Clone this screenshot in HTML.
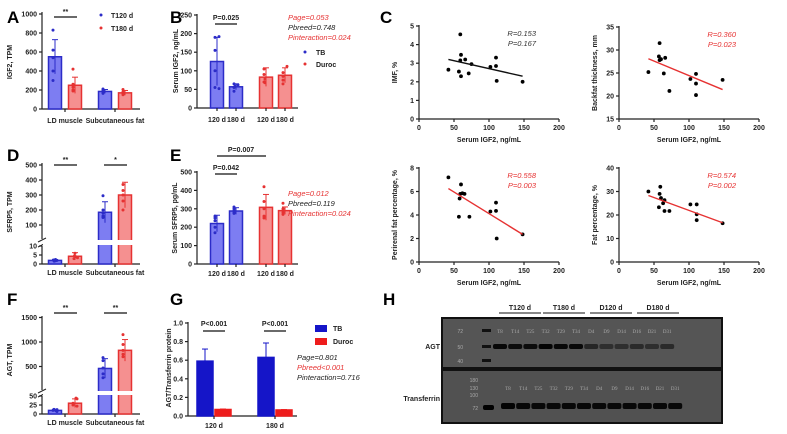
<!DOCTYPE html>
<html><head><meta charset="utf-8"><style>
body{margin:0;background:#fff}
svg{display:block;font-family:"Liberation Sans",Arial,sans-serif}
.t{font-size:7px;font-weight:bold;fill:#222}
.pl{font-size:17px;font-weight:bold;fill:#000}
.st{font-size:7.5px;font-style:italic}
</style></head><body>
<svg id="fig" width="787" height="434" viewBox="0 0 787 434" xmlns="http://www.w3.org/2000/svg"></svg>
<script>
// ---------- data ----------
const barCats=['LD muscle','Subcutaneous fat'];
const ageCats=['120 d','180 d','120 d','180 d'];
const A_t120=[550,185], A_t180=[250,170], A_t120sd=[180,20], A_t180sd=[85,25];
const A_p120=[[830,620,540,400,300],[210,200,185,175,165]], A_p180=[[420,260,230,200,190],[205,180,170,160,150]];
const A_ticks=[0,200,400,600,800,1000];
const B_vals=[125,57,83,88], B_sd=[65,8,25,20];
const B_pts=[[192,190,155,100,55,52],[65,62,58,55,45],[105,90,78,70,68],[112,95,85,75,65]];
const B_ticks=[0,50,100,150,200,250];
const D_t120=[2,185], D_t180=[4.3,300], D_t120sd=[0.5,70], D_t180sd=[2,85];
const D_p120=[[2.5,2.2,2,1.8,1.6],[295,200,180,160,150]], D_p180=[[6,4.5,4,3,3.5],[370,330,300,260,200]];
const D_ticksUp=[100,200,300,400,500], D_ticksLo=[0,5,10];
const E_vals=[220,288,308,290], E_sd=[45,18,70,20];
const E_pts=[[260,250,235,200,170],[310,300,290,280,275],[420,340,300,260,250],[330,300,290,280,270]];
const E_ticks=[0,100,200,300,400,500];
const F_t120=[10,460], F_t180=[30,830], F_t120sd=[3,200], F_t180sd=[12,220];
const F_p120=[[13,12,10,9,7],[680,620,470,350,270]], F_p180=[[44,42,30,25,22],[1150,950,830,750,700]];
const F_ticksUp=[500,1000,1500], F_ticksLo=[0,25,50];
const G_tb=[0.59,0.63], G_du=[0.07,0.065], G_tbsd=[0.13,0.155], G_dusd=[0.005,0.004];
const G_ticks=[0,0.2,0.4,0.6,0.8,1.0];
const C1_x=[42,57,59,59,60,60,66,71,75,102,110,110,111,148], C1_y=[2.65,2.55,4.55,3.15,3.45,2.3,3.2,2.45,2.95,2.8,2.85,3.3,2.05,2.0], C1_fit=[3.2,2.3];
const C2_x=[42,57,58,58,60,64,66,72,102,110,110,110,148], C2_y=[25.2,28.6,31.5,27.8,28,24.9,28.3,21.1,23.7,24.8,22.7,20.2,23.5], C2_fit=[28.1,21.4];
const C3_x=[42,57,58,59,60,62,65,72,102,110,110,111,148], C3_y=[7.2,3.85,5.4,5.8,6.6,5.85,5.8,3.85,4.3,5.05,4.35,2.0,2.35], C3_fit=[6.25,2.35];
const C4_x=[42,57,58,59,60,63,65,65,72,102,111,111,111,148], C4_y=[30,23.3,29,32,27.2,25,26.3,21.7,21.7,24.5,24.5,20.3,17.8,16.5], C4_fit=[28.3,16.7];
const fitX=[42,148];
const H_lanes=['T8','T14','T25','T32','T29','T34','D4','D9','D14','D16','D21','D31'];
const H_agt=[0.9,0.85,0.85,0.95,0.9,0.9,0.55,0.45,0.45,0.5,0.45,0.5];
const H_tf=[0.95,0.9,0.9,0.9,0.9,0.9,0.9,0.9,0.9,0.9,0.9,0.9];

// ---------- helpers ----------
const S='http://www.w3.org/2000/svg', svg=document.getElementById('fig');
function el(tag,at,txt,par){const e=document.createElementNS(S,tag);for(const k in at)e.setAttribute(k,at[k]);if(txt!=null)e.textContent=txt;(par||svg).appendChild(e);return e;}
const BL='#2c2cc8', BF='#7d7df2', RL='#e63232', RF='#f59090';
function txt(x,y,s,cls,anchor,fill,name){const e=el('text',{x:x,y:y,class:cls||'t','text-anchor':anchor||'middle'},s);if(fill)e.setAttribute('fill',fill);return e;}
function line(x1,y1,x2,y2,c,w,name){const e=el('line',{x1:x1,y1:y1,x2:x2,y2:y2,stroke:c||'#222','stroke-width':w||1.2});return e;}
function yAxis(x,ticks,y,fmt,name){ticks.forEach(v=>{line(x-3,y(v),x,y(v),'#222',1.2,'y-tick');txt(x-5,y(v)+2.5,fmt?fmt(v):String(v),'t','end',null,name+'-tick-label');});}
function bar(cx,w,v,sd,pts,y,lc,fc,name){
  const y0=y(0),yv=y(v);
  const r=el('rect',{x:cx-w/2,y:yv,width:w,height:y0-yv,fill:fc,stroke:lc,'stroke-width':1.5});
  
  line(cx,y(v+sd),cx,y(Math.max(0,v-sd)),lc,1,'error-bar');
  line(cx-3,y(v+sd),cx+3,y(v+sd),lc,1,'error-cap');
  pts.forEach(p=>{const c=el('circle',{cx:cx+((p*7)%5-2),cy:y(p),r:1.5,fill:lc});});
}
function sig(x1,x2,yl,s,name){line(x1,yl,x2,yl,'#111',1.2,'significance-line');txt((x1+x2)/2,yl-3,s,'t','middle',null,name).setAttribute('font-size','9');}
function rotTitle(x,y,s,name){const t=txt(x,y,s,'t','middle',null,name);t.setAttribute('transform','rotate(-90 '+x+' '+y+')');return t;}

// ---------- Panel A ----------
txt(7,23,'A','pl','start',null,'panel-label-a');
const yA=v=>109-v*0.095;
line(42,12,42,109);line(42,109,140,109);yAxis(42,A_ticks,yA,null,'a');
[0,1].forEach(i=>{const cx=[65,115][i];
  bar(cx-10,13,A_t120[i],A_t120sd[i],A_p120[i],yA,BL,BF,'bar-a-t120-'+i);
  bar(cx+10,13,A_t180[i],A_t180sd[i],A_p180[i],yA,RL,RF,'bar-a-t180-'+i);
  line(cx,109,cx,112);txt(cx,123,barCats[i],'t','middle',null,'a-category');});
rotTitle(12,62,'IGF2, TPM','a-y-axis-title');
sig(54,77,17,'**','a-significance');
el('circle',{cx:101,cy:15,r:1.5,fill:BL});txt(111,18,'T120 d','t','start','#222','legend-t120').setAttribute('font-weight','normal');
el('circle',{cx:101,cy:28,r:1.5,fill:RL});txt(111,31,'T180 d','t','start','#222','legend-t180').setAttribute('font-weight','normal');

// ---------- Panel B ----------
txt(170,23,'B','pl','start',null,'panel-label-b');
const yB=v=>108-v*0.372;
const xB=[217,236,266,285];
line(197,14,197,108);line(197,108,298,108);yAxis(197,B_ticks,yB,null,'b');
B_vals.forEach((v,i)=>{bar(xB[i],13,v,B_sd[i],B_pts[i],yB,i<2?BL:RL,i<2?BF:RF,'bar-b-'+i);line(xB[i],108,xB[i],111);txt(xB[i],122,ageCats[i],'t','middle',null,'b-age-label');});
rotTitle(178,61,'Serum IGF2, ng/mL','b-y-axis-title');
line(215,24,237,24,'#111',1.2,'significance-line');txt(226,20,'P=0.025','t','middle','#222','b-p-value').setAttribute('font-weight','normal');
txt(288,20,'Page=0.053','st','start',RL,'b-page');txt(288,30,'Pbreed=0.748','st','start','#222','b-pbreed');txt(288,40,'Pinteraction=0.024','st','start',RL,'b-pinteraction');
el('circle',{cx:305,cy:52,r:1.5,fill:BL});txt(316,55,'TB','t','start','#222','legend-tb').setAttribute('font-weight','normal');
el('circle',{cx:305,cy:64,r:1.5,fill:RL});txt(316,67,'Duroc','t','start','#222','legend-duroc').setAttribute('font-weight','normal');

// ---------- Panel C ----------
txt(380,23,'C','pl','start',null,'panel-label-c');
function scatter(x0,yb,yt,ymin,ymax,ticks,xs,ys,fit,col,ylab,rtxt,ptxt,name){
  const xs_=v=>x0+v*0.7, ys_=v=>yb-(v-ymin)/(ymax-ymin)*(yb-yt);
  line(x0,yt-1,x0,yb);line(x0,yb,x0+140,yb);
  ticks.forEach(v=>{line(x0-3,ys_(v),x0,ys_(v),'#222',1.2,'y-tick');txt(x0-5,ys_(v)+2.5,String(v),'t','end',null,name+'-y-tick');});
  [0,50,100,150,200].forEach(v=>{line(xs_(v),yb,xs_(v),yb+3,'#222',1.2,'x-tick');txt(xs_(v),yb+11,String(v),'t','middle',null,name+'-x-tick');});
  xs.forEach((x,i)=>{const c=el('circle',{cx:xs_(x),cy:ys_(ys[i]),r:1.9,fill:'#000'});});
  line(xs_(fitX[0]),ys_(fit[0]),xs_(fitX[1]),ys_(fit[1]),col,1.4,'regression-line');
  txt(x0+70,yb+23,'Serum IGF2, ng/mL','t','middle',null,name+'-x-axis-title').setAttribute('font-size','7.5');
  rotTitle(x0-22,(yb+yt)/2,ylab,name+'-y-axis-title');
  txt(x0+117,yt+10,rtxt,'st','end',col==='#111'?'#333':RL,name+'-r');txt(x0+117,yt+20,ptxt,'st','end',col==='#111'?'#333':RL,name+'-p');
}
scatter(419,119,26,0,5,[0,1,2,3,4,5],C1_x,C1_y,C1_fit,'#111','IMF, %','R=0.153','P=0.167','c-imf');
scatter(619,119,27,15,35,[15,20,25,30,35],C2_x,C2_y,C2_fit,RL,'Backfat thickness, mm','R=0.360','P=0.023','c-backfat');
scatter(419,262,168,0,8,[0,2,4,6,8],C3_x,C3_y,C3_fit,RL,'Perirenal fat percentage, %','R=0.558','P=0.003','c-perirenal');
scatter(619,262,168,0,40,[0,10,20,30,40],C4_x,C4_y,C4_fit,RL,'Fat percentage, %','R=0.574','P=0.002','c-fatpct');

// ---------- Panel D (broken axis) ----------
txt(7,161,'D','pl','start',null,'panel-label-d');
const yD=v=>v<=10?264-v*1.8:240-v*0.15;
function brokenPanel(yf,lowTop,upBot,upTop,base,t1,t2,sd1,sd2,p1,p2,tU,tL,pref){
  line(42,upTop,42,upBot);line(42,lowTop,42,base);line(42,base,140,base);
  line(38,upBot+3,46,upBot-1,'#222',1,'axis-break');line(38,lowTop+1,46,lowTop-3,'#222',1,'axis-break');
  yAxis(42,tU,yf,null,pref);yAxis(42,tL,yf,null,pref);
  [0,1].forEach(i=>{const cx=[65,115][i];
    bar(cx-10,13,t1[i],sd1[i],p1[i],yf,BL,BF,'bar-'+pref+'-t120-'+i);
    bar(cx+10,13,t2[i],sd2[i],p2[i],yf,RL,RF,'bar-'+pref+'-t180-'+i);
    line(cx,base,cx,base+3);txt(cx,base+11,barCats[i],'t','middle',null,pref+'-category');});
  const g=el('rect',{x:43,y:upBot+1,width:100,height:lowTop-upBot-2,fill:'#fff'});
}
brokenPanel(yD,246,239,163,264,D_t120,D_t180,D_t120sd,D_t180sd,D_p120,D_p180,D_ticksUp,D_ticksLo,'d');
rotTitle(12,212,'SFRP5, TPM','d-y-axis-title');
sig(54,77,165,'**','d-significance-ld');sig(104,127,165,'*','d-significance-sf');

// ---------- Panel E ----------
txt(170,161,'E','pl','start',null,'panel-label-e');
const yE=v=>264-v*0.184;
line(197,171,197,264);line(197,264,298,264);yAxis(197,E_ticks,yE,null,'e');
E_vals.forEach((v,i)=>{bar(xB[i],13,v,E_sd[i],E_pts[i],yE,i<2?BL:RL,i<2?BF:RF,'bar-e-'+i);line(xB[i],264,xB[i],267);txt(xB[i],276,ageCats[i],'t','middle',null,'e-age-label');});
rotTitle(177,218,'Serum SFRP5, pg/mL','e-y-axis-title');
line(215,174,237,174,'#111',1.2,'significance-line');txt(226,170,'P=0.042','t','middle','#222','e-p-042').setAttribute('font-weight','normal');
line(217,156,266,156,'#111',1.2,'significance-line');txt(241,152,'P=0.007','t','middle','#222','e-p-007').setAttribute('font-weight','normal');
txt(288,196,'Page=0.012','st','start',RL,'e-page');txt(288,206,'Pbreed=0.119','st','start','#222','e-pbreed');txt(288,216,'Pinteraction=0.024','st','start',RL,'e-pinteraction');

// ---------- Panel F ----------
txt(7,305,'F','pl','start',null,'panel-label-f');
const yF=v=>v<=50?414-v*0.36:391-v*0.049;
brokenPanel(yF,396,390,316,414,F_t120,F_t180,F_t120sd,F_t180sd,F_p120,F_p180,F_ticksUp,F_ticksLo,'f');
rotTitle(12,360,'AGT, TPM','f-y-axis-title');
sig(54,77,313,'**','f-significance-ld');sig(104,127,313,'**','f-significance-sf');

// ---------- Panel G ----------
txt(170,305,'G','pl','start',null,'panel-label-g');
const yG=v=>416-v*93;
line(188,322,188,416);line(188,416,297,416);yAxis(188,G_ticks,yG,v=>v.toFixed(1),'g');
[0,1].forEach(i=>{const cx=[214,275][i];
  bar(cx-9,16,G_tb[i],G_tbsd[i],[],yG,'#1515c8','#1515c8','bar-g-tb-'+i);
  bar(cx+9,16,G_du[i],G_dusd[i],[],yG,'#ee1c1c','#ee1c1c','bar-g-duroc-'+i);
  line(cx,416,cx,419);txt(cx,428,['120 d','180 d'][i],'t','middle',null,'g-age-label');
  line(cx-11,331,cx+11,331,'#111',1.2,'significance-line');txt(cx,326,'P<0.001','t','middle','#222','g-p-value').setAttribute('font-weight','normal');});
rotTitle(171,368,'AGT/Transferrin protein','g-y-axis-title');
el('rect',{x:315,y:325,width:12,height:7,fill:'#1515c8'});txt(333,331,'TB','t','start','#222','legend-g-tb').setAttribute('font-weight','normal');
el('rect',{x:315,y:338,width:12,height:7,fill:'#ee1c1c'});txt(333,344,'Duroc','t','start','#222','legend-g-duroc').setAttribute('font-weight','normal');
txt(297,360,'Page=0.801','st','start','#222','g-page');txt(297,370,'Pbreed<0.001','st','start',RL,'g-pbreed');txt(297,380,'Pinteraction=0.716','st','start','#222','g-pinteraction');

// ---------- Panel H (western blot) ----------
txt(383,305,'H','pl','start',null,'panel-label-h');
[['T120 d',520],['T180 d',564],['D120 d',611],['D180 d',658]].forEach(g=>{txt(g[1],310,g[0],'t','middle',null,'h-group-label');line(g[1]-21,313,g[1]+21,313,'#111',1,'h-group-line');});
const b1=el('rect',{x:442,y:318,width:280,height:50,fill:'#555',stroke:'#111','stroke-width':2});
const b2=el('rect',{x:442,y:370,width:280,height:53,fill:'#515151',stroke:'#111','stroke-width':2});
txt(440,349,'AGT','t','end','#111','h-agt-label').setAttribute('font-size','10');
txt(440,401,'Transferrin','t','end','#111','h-transferrin-label').setAttribute('font-size','10');
const laneX=i=>500+i*15.2;
H_lanes.forEach((n,i)=>{
  const a=el('rect',{x:laneX(i)-7,y:344,width:14,height:5,rx:2,fill:'#000','fill-opacity':H_agt[i]});
  const t=el('rect',{x:laneX(i)+8-7,y:403,width:14,height:6,rx:2,fill:'#000','fill-opacity':H_tf[i]});
  const l=el('text',{x:laneX(i),y:333,'font-size':5,fill:'#aaa','text-anchor':'middle','font-family':'Liberation Serif'},n);
  const l2=el('text',{x:laneX(i)+8,y:390,'font-size':5,fill:'#aaa','text-anchor':'middle','font-family':'Liberation Serif'},n);
});
[['72',331],['50',347],['40',361]].forEach(m=>{el('text',{x:463,y:m[1]+2,'font-size':5,fill:'#aaa','text-anchor':'end'},m[0]);el('rect',{x:482,y:m[1]-2,width:9,height:3,fill:'#111'});});
[['180',380],['130',388],['100',395],['72',408]].forEach(m=>{el('text',{x:478,y:m[1]+2,'font-size':5,fill:'#aaa','text-anchor':'end'},m[0]);});
el('rect',{x:483,y:405,width:11,height:5,rx:2,fill:'#000'});
</script>
</body></html>
